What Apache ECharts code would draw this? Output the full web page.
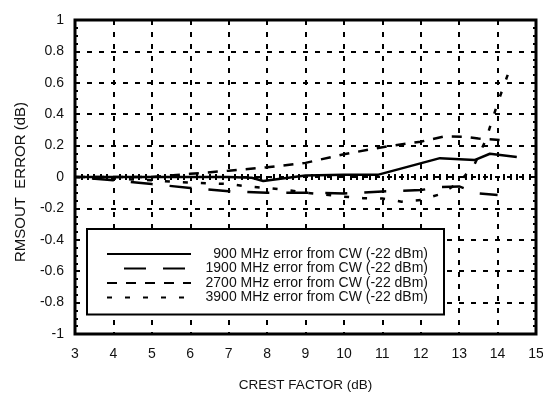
<!DOCTYPE html>
<html>
<head>
<meta charset="utf-8">
<script src="https://cdn.jsdelivr.net/npm/echarts@6/dist/echarts.min.js"></script>
<style>html,body{margin:0;padding:0;background:#fff}#c{width:543px;height:393px}</style>
</head>
<body>
<div id="c"></div>
<script>
// Series names
const seriesNames = [
  '900 MHz error from CW (-22 dBm)',
  '1900 MHz error from CW (-22 dBm)',
  '2700 MHz error from CW (-22 dBm)',
  '3900 MHz error from CW (-22 dBm)'
];
// 900 MHz (solid)
const x900 = [3, 4, 5, 6, 7, 7.6, 7.9, 9, 10, 10.9, 12.5, 13.4, 13.8, 14.5];
const y900 = [0, 0, 0, 0, 0, -0.005, -0.025, 0.01, 0.015, 0.015, 0.12, 0.108, 0.148, 0.128];
// 1900 MHz (long dash)
const x1900 = [3, 4, 5, 6, 7, 8, 9, 10, 11, 12, 12.5, 13, 13.5, 14];
const y1900 = [0, -0.02, -0.045, -0.07, -0.09, -0.1, -0.1, -0.105, -0.092, -0.083, -0.065, -0.06, -0.105, -0.115];
// 2700 MHz (dash)
const x2700 = [3, 4, 5, 6, 7, 8, 9, 10, 11, 12, 12.6, 13.1, 13.5, 14.1];
const y2700 = [0, 0, 0, 0.02, 0.04, 0.062, 0.09, 0.145, 0.19, 0.225, 0.258, 0.257, 0.245, 0.235];
// 3900 MHz (dotted)
const x3900 = [3, 4, 5, 5.5, 6.5, 7, 7.5, 8, 8.5, 9, 10, 10.5, 11, 11.5, 12, 12.5, 13, 13.4, 13.7, 14, 14.35];
const y3900 = [0, -0.01, -0.02, -0.03, -0.04, -0.045, -0.06, -0.07, -0.083, -0.1, -0.125, -0.135, -0.137, -0.157, -0.147, -0.11, -0.035, 0.08, 0.24, 0.47, 0.71];
// Axis settings
const xMin = 3, xMax = 15, xStep = 1;
const yMin = -1, yMax = 1, yStep = 0.2;
const xTitle = 'CREST FACTOR (dB)';
const yTitle = 'RMSOUT  ERROR (dB)';

const pairs = (xs, ys) => xs.map((x, i) => [x, ys[i]]);
const font = 'Liberation Sans, Arial, Helvetica, sans-serif';

const chart = echarts.init(document.getElementById('c'), null, {renderer: 'canvas'});
const gridLine = {show: true, lineStyle: {color: '#000', type: [5, 7], width: 2}};
const minor = (n) => ({show: true, splitNumber: n, length: 3, lineStyle: {color: '#000', width: 2}});

const mkSeries = (name, xs, ys, type, width, offset) => ({
  name, type: 'line', data: pairs(xs, ys), symbol: 'none', showSymbol: false,
  lineStyle: {color: '#000', width: width, type: type, dashOffset: offset || 0, cap: 'butt'},
  itemStyle: {color: '#000'}, animation: false, z: 3
});

chart.setOption({
  animation: false,
  backgroundColor: '#fff',
  grid: {left: 75, right: 7, top: 20, bottom: 59, show: true, borderColor: '#000', borderWidth: 3,
         backgroundColor: 'transparent', containLabel: false, outerBoundsMode: 'none'},
  legend: {
    orient: 'vertical', left: 87, top: 229,
    padding: [18, 16, 10, 19],
    itemWidth: 84, itemHeight: 14, itemGap: 0.5,
    backgroundColor: '#fff', borderColor: '#000', borderWidth: 2,
    data: seriesNames,
    itemStyle: {color: 'transparent', borderColor: 'transparent', borderWidth: 0, opacity: 0},
    formatter: (n) => '{a|' + n + '}',
    textStyle: {rich: {a: {width: 232, align: 'right', fontSize: 14, lineHeight: 14, color: '#111', fontFamily: font}}},
    selectedMode: false, z: 10
  },
  xAxis: [{
    type: 'value', min: xMin, max: xMax, interval: xStep, position: 'bottom',
    axisLine: {show: false},
    axisTick: {show: false, inside: true},
    minorTick: minor(6),
    splitLine: gridLine,
    axisLabel: {color: '#111', fontSize: 14, margin: 13, fontFamily: font},
    name: xTitle, nameLocation: 'middle', nameGap: 44,
    nameTextStyle: {color: '#111', fontSize: 13.5, fontFamily: font}
  }, {
    type: 'value', min: xMin, max: xMax, interval: xStep, position: 'top',
    axisLine: {show: false}, axisTick: {show: false, inside: true},
    minorTick: minor(6), splitLine: {show: false}, axisLabel: {show: false}
  }],
  yAxis: [{
    type: 'value', min: yMin, max: yMax, interval: yStep, position: 'left',
    axisLine: {show: false},
    axisTick: {show: false, inside: true},
    minorTick: minor(4),
    splitLine: gridLine,
    axisLabel: {color: '#111', fontSize: 14, margin: 11, fontFamily: font},
    name: yTitle, nameLocation: 'middle', nameGap: 47,
    nameTextStyle: {color: '#111', fontSize: 15, fontFamily: font, padding: [0, 10, 0, 0]}
  }, {
    type: 'value', min: yMin, max: yMax, interval: yStep, position: 'right',
    axisLine: {show: false}, axisTick: {show: false, inside: true},
    minorTick: minor(4), splitLine: {show: false}, axisLabel: {show: false}
  }],
  series: [
    mkSeries(seriesNames[0], x900, y900, 'solid', 2.5),
    mkSeries(seriesNames[1], x1900, y1900, [22, 17], 2.5, 22),
    mkSeries(seriesNames[2], x2700, y2700, [10, 9], 2.5),
    mkSeries(seriesNames[3], x3900, y3900, [5, 13], 2.5)
  ]
});
</script>
</body>
</html>
